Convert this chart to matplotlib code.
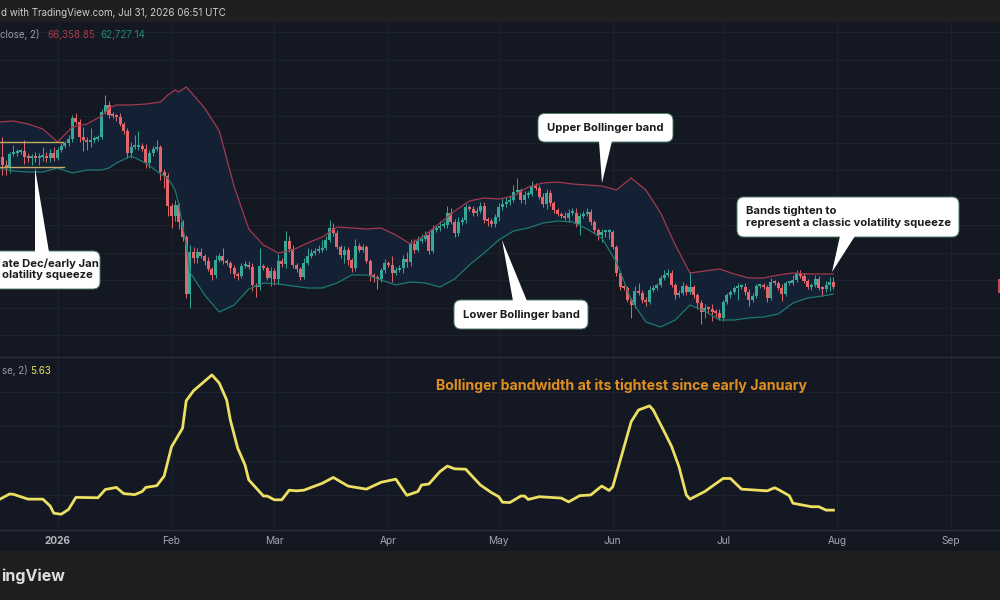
import numpy as np
import matplotlib
matplotlib.use("Agg")
import matplotlib.pyplot as plt
from matplotlib.patches import FancyBboxPatch, Polygon, Rectangle

# --- Data (prices in $k, days counted from 1 Jan 2026) ---
first_day = -16
closes = [
    90.0, 88.4, 87.8, 90.6, 90.8, 91.0, 91.2, 90.0, 89.8, 90.0, 89.8, 90.0,
    90.2, 89.8, 90.8, 89.8, 91.4, 92.2, 92.8, 93.6, 97.8, 97.0, 94.0, 93.4,
    93.0, 93.4, 93.6, 94.0, 99.0, 100.4, 98.4, 98.2, 98.0, 96.6, 95.2, 90.8,
    92.0, 92.0, 92.2, 91.6, 88.8, 90.8, 91.6, 92.0, 87.0, 86.2, 80.2, 78.2,
    80.4, 77.0, 74.0, 62.6, 71.0, 69.8, 71.0, 70.2, 69.2, 67.6, 66.4, 69.4,
    70.2, 69.2, 68.8, 67.8, 66.6, 66.2, 68.2, 68.4, 68.0, 64.4, 64.0, 68.2,
    67.8, 65.8, 67.2, 65.6, 69.2, 68.6, 73.2, 71.6, 68.4, 67.6, 66.0, 68.8,
    70.2, 70.8, 71.2, 71.4, 71.8, 73.4, 75.8, 74.8, 72.0, 70.4, 71.4, 69.4,
    67.8, 72.2, 71.4, 72.0, 69.2, 66.4, 66.0, 65.6, 67.4, 68.8, 68.4, 66.8,
    67.4, 67.8, 69.6, 69.0, 72.6, 71.4, 73.2, 73.6, 74.4, 71.2, 75.4, 75.8,
    76.2, 76.4, 78.8, 77.0, 74.8, 77.0, 77.4, 80.0, 79.6, 78.8, 79.2, 80.2,
    77.4, 77.2, 76.6, 78.0, 80.0, 80.6, 81.0, 81.4, 83.0, 83.4, 81.4, 82.4,
    82.6, 84.2, 83.8, 82.0, 80.6, 82.8, 80.8, 79.4, 78.6, 78.2, 77.8, 78.8,
    78.8, 76.6, 78.2, 78.6, 79.0, 77.0, 75.4, 74.4, 75.0, 75.0, 75.0, 72.0,
    66.8, 64.0, 63.8, 61.4, 60.4, 63.2, 62.8, 61.4, 61.0, 63.4, 63.8, 64.4,
    65.8, 66.4, 66.8, 64.4, 62.4, 62.8, 64.2, 63.0, 64.0, 62.4, 60.8, 59.0,
    59.8, 59.6, 59.0, 58.8, 57.8, 61.0, 62.4, 63.0, 63.8, 64.0, 64.0, 63.0,
    61.4, 62.2, 64.2, 64.2, 64.0, 61.8, 65.0, 64.8, 63.8, 62.6, 64.8, 64.8,
    65.4, 66.8, 66.2, 65.2, 64.0, 64.4, 65.6, 63.8, 63.6, 64.4, 65.0, 64.0,
]
upper_wick = [
    0.6, 4.0, 1.0, 0.4, 1.6, 0.6, 0.4, 2.2, 0.8, 0.6, 1.0, 0.8,
    1.8, 0.8, 0.8, 1.2, 0.6, 0.6, 0.4, 0.8, 0.6, 1.0, 0.6, 2.0,
    0.6, 2.4, 0.6, 0.4, 0.6, 2.0, 0.8, 0.6, 0.4, 0.8, 0.4, 0.6,
    1.0, 2.4, 3.0, 0.6, 1.0, 0.6, 0.6, 1.4, 0.4, 0.6, 0.6, 0.6,
    1.0, 0.4, 0.4, 0.4, 1.4, 1.0, 0.8, 0.8, 0.4, 0.8, 0.4, 1.0,
    0.6, 1.6, 0.4, 0.4, 0.6, 0.4, 0.6, 0.8, 0.8, 0.8, 0.4, 3.6,
    0.4, 0.4, 0.8, 0.6, 1.4, 0.6, 2.0, 1.0, 0.8, 0.4, 0.4, 1.0,
    1.6, 0.8, 0.6, 1.0, 1.6, 0.8, 1.6, 1.0, 0.6, 0.4, 0.8, 0.6,
    0.4, 1.4, 0.6, 0.6, 0.4, 0.4, 0.4, 0.4, 0.4, 0.8, 0.4, 1.8,
    0.6, 0.6, 0.8, 1.4, 1.0, 1.0, 1.0, 1.0, 0.8, 0.8, 1.0, 0.6,
    1.0, 0.8, 1.4, 1.0, 0.6, 1.0, 0.6, 0.6, 0.4, 0.6, 0.8, 0.8,
    0.8, 0.6, 0.6, 0.6, 0.8, 1.2, 1.0, 1.0, 1.4, 2.4, 0.4, 0.8,
    0.6, 1.0, 0.6, 0.6, 0.8, 0.8, 0.6, 0.4, 0.4, 0.4, 0.8, 0.8,
    1.0, 1.0, 0.6, 0.6, 0.8, 0.6, 0.4, 0.4, 0.6, 0.4, 0.6, 0.4,
    0.4, 0.4, 0.4, 0.4, 0.4, 1.0, 1.6, 0.6, 0.6, 0.8, 0.6, 0.4,
    0.6, 1.0, 0.8, 0.6, 0.4, 0.6, 0.8, 0.4, 3.0, 0.4, 0.4, 0.6,
    0.8, 0.4, 1.0, 0.6, 0.8, 0.4, 0.4, 0.4, 0.4, 0.8, 0.6, 0.8,
    0.6, 0.6, 0.4, 0.4, 0.6, 0.4, 0.8, 0.4, 0.4, 0.8, 0.4, 0.4,
    1.0, 0.6, 0.6, 0.6, 0.4, 0.4, 0.8, 0.6, 0.4, 0.8, 1.0, 1.0,
]
lower_wick = [
    0.6, 2.0, 1.4, 1.0, 0.4, 0.6, 0.4, 1.4, 0.8, 1.4, 0.8, 1.4,
    0.8, 0.8, 0.8, 0.6, 0.4, 0.4, 0.4, 0.6, 0.6, 0.4, 1.0, 2.2,
    1.6, 1.0, 0.6, 0.4, 0.4, 0.4, 0.6, 0.4, 0.8, 0.4, 0.6, 1.0,
    1.0, 0.4, 0.6, 0.4, 1.0, 1.0, 0.6, 0.4, 1.6, 2.4, 2.0, 2.4,
    1.0, 1.4, 0.8, 0.8, 2.8, 1.0, 1.0, 0.4, 0.8, 0.4, 1.0, 0.6,
    0.4, 0.6, 0.4, 1.0, 0.8, 0.8, 0.4, 0.4, 0.4, 1.2, 2.0, 0.6,
    0.4, 0.4, 1.6, 1.2, 1.0, 0.6, 0.8, 0.6, 0.6, 0.6, 0.6, 0.4,
    0.4, 0.4, 0.4, 0.4, 0.4, 0.4, 0.4, 0.6, 0.4, 0.6, 1.6, 1.0,
    0.8, 0.6, 0.4, 0.4, 0.4, 1.2, 1.0, 2.0, 0.6, 0.6, 0.4, 1.8,
    0.4, 0.4, 1.0, 1.0, 0.8, 0.6, 0.4, 0.4, 0.4, 0.6, 0.4, 0.4,
    0.6, 0.4, 0.6, 0.4, 0.8, 0.6, 0.6, 0.6, 0.4, 0.6, 0.6, 0.4,
    0.6, 1.0, 0.6, 0.6, 0.8, 0.6, 0.6, 0.6, 0.4, 0.4, 0.6, 0.8,
    0.6, 0.4, 0.4, 0.4, 0.6, 1.0, 0.6, 0.6, 0.4, 0.4, 0.4, 0.8,
    0.4, 0.6, 2.2, 0.4, 0.4, 0.6, 0.6, 1.0, 1.4, 1.0, 1.4, 0.4,
    0.6, 0.6, 0.4, 0.4, 2.6, 0.6, 0.4, 0.6, 0.8, 0.4, 0.4, 0.4,
    0.4, 0.4, 0.4, 0.4, 0.8, 0.4, 0.4, 0.6, 0.4, 0.6, 1.2, 2.4,
    1.2, 0.8, 1.8, 0.8, 0.4, 0.6, 0.4, 0.6, 0.4, 2.4, 0.4, 0.6,
    1.2, 0.4, 0.4, 0.4, 0.4, 0.8, 0.4, 0.4, 0.4, 1.4, 0.4, 0.4,
    0.4, 0.4, 0.4, 0.4, 0.4, 0.6, 0.4, 0.4, 1.4, 0.6, 1.2, 0.4,
]

band_days = [
    -16, -12, -8, -4, 0, 4, 8, 12, 14, 16, 20, 24, 28, 30, 32, 33, 35, 36, 40, 44,
    48, 52, 56, 60, 64, 68, 72, 76, 80, 84, 88, 92, 96, 100, 104, 108, 112, 116, 120, 124,
    128, 132, 136, 140, 144, 148, 152, 156, 160, 164, 168, 172, 176, 180, 184, 188, 192, 196, 200, 204,
    208, 211,
]
upper_band = [
    97.0, 97.2, 96.6, 95.6, 93.0, 96.0, 96.6, 98.2, 99.8, 100.4, 100.4, 100.6, 101.0, 102.4, 103.4, 103.0, 104.0, 103.2, 99.8, 95.2,
    84.2, 75.6, 72.4, 70.8, 71.4, 72.8, 74.0, 76.0, 75.8, 75.6, 75.8, 74.4, 72.6, 74.4, 76.8, 79.2, 81.2, 81.8, 81.6, 82.2,
    84.0, 84.8, 85.0, 84.6, 84.4, 84.2, 83.4, 85.8, 83.4, 78.8, 72.4, 66.8, 67.2, 67.6, 66.6, 65.8, 65.8, 66.4, 66.8, 66.6,
    66.6, 66.6,
]
lower_band = [
    87.8, 87.2, 87.0, 87.0, 87.8, 86.8, 87.4, 87.4, 87.8, 88.8, 90.2, 88.8, 86.6, 85.8, 83.4, 80.4, 72.4, 67.0, 62.4, 59.0,
    60.4, 63.6, 64.8, 64.6, 64.2, 63.8, 63.8, 64.8, 66.4, 66.4, 65.4, 64.4, 65.0, 64.8, 64.0, 65.6, 68.4, 70.8, 73.4, 75.2,
    75.8, 76.8, 77.2, 77.0, 75.6, 73.8, 69.0, 61.4, 57.0, 56.0, 57.4, 60.4, 59.2, 57.4, 57.4, 57.8, 58.0, 58.6, 60.8, 61.8,
    62.2, 62.6,
]

bw_days = [
    -16, -13, -12, -8, -4, -2, -1, 1, 3, 5, 11, 13, 16, 18, 21, 23, 24, 27, 29, 31,
    34, 35, 37, 42, 44, 46, 47, 49, 51, 52, 56, 57, 59, 61, 63, 65, 67, 72, 75, 79,
    80, 84, 88, 92, 95, 98, 99, 101, 104, 106, 108, 111, 115, 118, 120, 121, 123, 126, 127, 128,
    131, 137, 139, 142, 145, 148, 150, 151, 156, 158, 161, 162, 165, 167, 169, 171, 172, 176, 181, 183,
    186, 193, 195, 196, 199, 200, 205, 207, 209, 211,
]
bandwidth = [
    8.6, 10.3, 10.2, 8.8, 8.8, 6.8, 4.7, 4.4, 5.8, 9.3, 9.2, 11.6, 12.2, 10.4, 10.1, 11.0, 12.2, 12.7, 15.5, 24.0,
    29.4, 37.4, 40.3, 44.9, 42.5, 37.6, 31.8, 23.6, 18.7, 14.4, 9.7, 9.7, 8.6, 8.6, 11.4, 11.2, 11.4, 13.4, 15.1, 12.6,
    12.4, 11.7, 13.7, 14.6, 9.9, 11.0, 12.9, 13.2, 16.8, 18.4, 17.6, 17.5, 12.9, 10.7, 9.5, 7.9, 7.8, 9.7, 9.7, 8.7,
    9.5, 9.1, 8.0, 9.8, 10.0, 12.6, 11.3, 12.4, 31.3, 34.7, 35.9, 34.7, 28.4, 24.1, 18.2, 10.0, 8.8, 11.0, 14.8, 14.8,
    11.7, 11.2, 12.1, 11.6, 9.8, 7.6, 6.6, 6.6, 5.6, 5.6,
]

month_days = [0, 31, 59, 90, 120, 151, 181, 212, 243]
month_labels = ["2026", "Feb", "Mar", "Apr", "May", "Jun", "Jul", "Aug", "Sep"]
price_grid = [115, 109.4, 103.8, 98.2, 92.8, 87.4, 81.8, 76.4, 70.8, 65.4, 59.8, 54.4]
bw_grid = [10, 20, 30, 40]

# --- Style ---
plt.rcParams["font.family"] = ["Inter", "DejaVu Sans"]
bar_col = "#1f1f1f"
chart_col = "#141823"
grid_col = "#1c212e"
sep_col = "#2c303c"
up_col = "#35a898"
down_col = "#e4666a"
upper_col = "#a33a4e"
lower_col = "#1c7a6e"
fill_col = "#142033"
line_col = "#ecdf62"
label_col = "#a3a6b0"


def setup_axes(ax, ylim, grid):
    ax.set_facecolor(chart_col)
    ax.set_xlim(-15.64, 256.3)
    ax.set_ylim(*ylim)
    ax.set_xticks(month_days)
    ax.set_yticks(grid)
    ax.grid(True, color=grid_col, linewidth=0.8)
    ax.set_axisbelow(True)
    ax.tick_params(length=0, labelbottom=False, labelleft=False)
    for spine in ax.spines.values():
        spine.set_visible(False)


def callout(ax, box, tail, lines):
    x0, y0, x1, y1 = box
    ax.add_patch(Polygon(tail, closed=True, facecolor="white", edgecolor="none", zorder=5))
    ax.add_patch(FancyBboxPatch((x0, y0), x1 - x0, y1 - y0, boxstyle="round,pad=0,rounding_size=7",
                                facecolor="white", edgecolor="#4f7f6c", linewidth=0.7, zorder=4))
    for tx, ty, ha, text in lines:
        ax.text(tx, ty, text, ha=ha, va="center", fontsize=8.1, fontweight="bold", color="#1b1b1f", zorder=6)


fig = plt.figure(figsize=(10, 6), dpi=100, facecolor=bar_col)

# full-figure layer in picture pixels for the strips, callouts and captions
back = fig.add_axes([0, 0, 1, 1], zorder=0)
back.set_xlim(0, 1000)
back.set_ylim(600, 0)
back.axis("off")
back.add_patch(Rectangle((0, 22), 1000, 529, facecolor=chart_col, edgecolor="none"))

ax_price = fig.add_axes([0, 243 / 600, 1, 335 / 600], zorder=1)
ax_bw = fig.add_axes([0, 70.6 / 600, 1, 172.4 / 600], zorder=1)
setup_axes(ax_price, (50, 117), price_grid)
setup_axes(ax_bw, (0, 50.1), bw_grid)

# --- Candles ---
closes = np.array(closes)
opens = np.r_[closes[0], closes[:-1]]
days = np.arange(first_day, first_day + len(closes))
body_low = np.minimum(opens, closes)
body_high = np.maximum(opens, closes)
colours = [up_col if c >= o else down_col for o, c in zip(opens, closes)]

ax_price.fill_between(band_days, lower_band, upper_band, color=fill_col, linewidth=0, zorder=1)
ax_price.vlines(days, body_low - np.array(lower_wick), body_high + np.array(upper_wick),
                colors=colours, linewidth=0.7, zorder=2)
ax_price.bar(days, np.maximum(body_high - body_low, 0.3), bottom=body_low, width=0.82,
             color=colours, linewidth=0, zorder=3)
ax_price.plot(band_days, upper_band, color=upper_col, linewidth=0.9, zorder=4)
ax_price.plot(band_days, lower_band, color=lower_col, linewidth=0.9, zorder=4)

# --- Bandwidth ---
ax_bw.plot(bw_days, bandwidth, color=line_col, linewidth=2.0, solid_joinstyle="round", zorder=3)

# --- Overlay ---
top = fig.add_axes([0, 0, 1, 1], zorder=2)
top.set_xlim(0, 1000)
top.set_ylim(600, 0)
top.axis("off")
top.patch.set_alpha(0)

top.add_patch(Rectangle((0, 0), 1000, 22, facecolor=bar_col, edgecolor="none"))
top.add_patch(Rectangle((0, 551), 1000, 49, facecolor=bar_col, edgecolor="none"))
top.plot([0, 1000], [357, 357], color=sep_col, linewidth=1.0)
top.plot([0, 1000], [529.5, 529.5], color=sep_col, linewidth=1.0)
top.add_patch(Rectangle((998, 279), 3, 14, facecolor="#c94a50", edgecolor="none"))

# squeeze box
top.plot([-2, 63], [142, 142], color="#c4ab62", linewidth=1.0)
top.plot([-2, 64], [167, 167], color="#c4ab62", linewidth=1.0)

# the reference crops its left edge, so only the visible letters are kept
callout(top, (-12, 251, 100, 289), [(35, 168), (35, 252), (49, 252)],
        [(2, 264, "left", "ate Dec/early Jan"), (2, 275.5, "left", "olatility squeeze")])
callout(top, (538, 113.5, 673, 142), [(599, 141), (612, 141), (602, 183)],
        [(605.5, 128, "center", "Upper Bollinger band")])
callout(top, (454, 300, 588, 329), [(502, 240), (513, 301), (527, 301)],
        [(521, 314.5, "center", "Lower Bollinger band")])
callout(top, (737, 197, 959, 237), [(840, 236), (855, 236), (832, 272)],
        [(746, 211, "left", "Bands tighten to"), (746, 222.5, "left", "represent a classic volatility squeeze")])

top.text(621.5, 386, "Bollinger bandwidth at its tightest since early January", ha="center", va="center",
         fontsize=10.2, fontweight="bold", color="#df8f22")

# legend fragments
top.text(1, 13, "d with TradingView.com, Jul 31, 2026 06:51 UTC", ha="left", va="center",
         fontsize=7.0, color="#cfcfcf")
top.text(40, 34.5, "close, 2)", ha="right", va="center", fontsize=7.0, color="#9a9da8")
top.text(47, 34.5, "66,358.85", ha="left", va="center", fontsize=7.0, color="#a83a4a")
top.text(100, 34.5, "62,727.14", ha="left", va="center", fontsize=7.0, color="#1f8a78")
top.text(1.5, 370.5, "se, 2)", ha="left", va="center", fontsize=7.0, color="#9a9da8")
top.text(30, 370.5, "5.63", ha="left", va="center", fontsize=7.0, color=line_col)

# month labels
for day, label in zip(month_days, month_labels):
    px = 57.5 + 3.677 * day
    bold = label == "2026"
    top.text(px, 541, label, ha="center", va="center", fontsize=7.3,
             fontweight="bold" if bold else "normal", color="#b4b6bd" if bold else label_col)

top.text(1.5, 576, "ingView", ha="left", va="center", fontsize=11.5, fontweight="bold", color="#dedede")

fig.savefig("out.png", dpi=100, facecolor=fig.get_facecolor())
